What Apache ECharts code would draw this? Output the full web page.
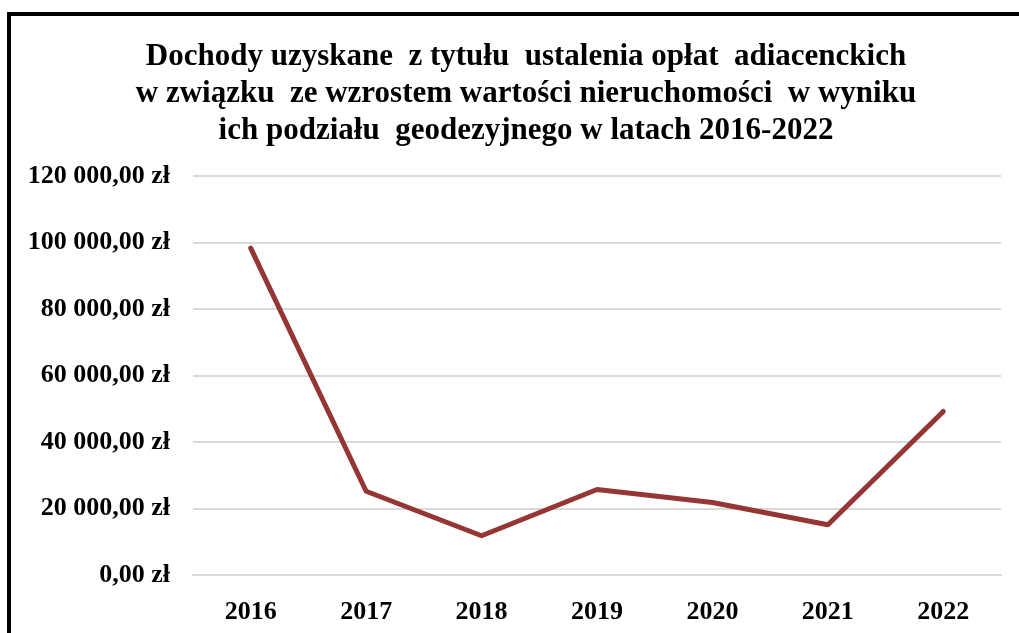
<!DOCTYPE html>
<html>
<head>
<meta charset="utf-8">
<title>Dochody z opłat adiacenckich 2016-2022</title>
<script src="https://cdn.jsdelivr.net/npm/echarts@6/dist/echarts.min.js"></script>
<style>
  html, body { margin: 0; padding: 0; background: #ffffff; }
  #chart { width: 1019px; height: 633px; }
</style>
</head>
<body>
<div id="chart"></div>
<script>
// Lata i dochody (zł)
const years = ['2016', '2017', '2018', '2019', '2020', '2021', '2022'];
const income = [98300, 25200, 11800, 25700, 21800, 15100, 49200];
const yTicks = { min: 0, max: 120000, step: 20000 };

const titleLines = [
  'Dochody uzyskane  z tytułu  ustalenia opłat  adiacenckich',
  'w związku  ze wzrostem wartości nieruchomości  w wyniku',
  'ich podziału  geodezyjnego w latach 2016-2022'
];

const serif = '"Liberation Serif", "Times New Roman", serif';

function formatZl(v) {
  const parts = Math.round(v).toString().replace(/\B(?=(\d{3})+(?!\d))/g, ' ');
  return parts + ',00 zł';
}

const chart = echarts.init(document.getElementById('chart'), null, { renderer: 'canvas' });

chart.setOption({
  backgroundColor: '#ffffff',
  animation: false,
  title: {
    text: titleLines.join('\n'),
    left: 521,
    top: 33,
    textAlign: 'center',
    textStyle: {
      fontFamily: serif,
      fontWeight: 'bold',
      fontSize: 31,
      lineHeight: 37,
      color: '#000000'
    }
  },
  graphic: [{
    type: 'rect',
    shape: { x: 9, y: 14, width: 1100, height: 700 },
    style: { fill: 'none', stroke: '#000000', lineWidth: 4 },
    silent: true,
    z: 100
  }],
  grid: { left: 193, right: 18, top: 176, bottom: 58 },
  xAxis: {
    type: 'category',
    data: years,
    boundaryGap: true,
    axisLine: { show: true, lineStyle: { color: '#d9d9d9', width: 2 } },
    axisTick: { show: false },
    axisLabel: {
      fontFamily: serif,
      fontWeight: 'bold',
      fontSize: 26,
      color: '#000000',
      margin: 24
    }
  },
  yAxis: {
    type: 'value',
    min: yTicks.min,
    max: yTicks.max,
    interval: yTicks.step,
    axisLine: { show: false },
    axisTick: { show: false },
    splitLine: { lineStyle: { color: '#d9d9d9', width: 2 } },
    axisLabel: {
      fontFamily: serif,
      fontWeight: 'bold',
      fontSize: 26,
      color: '#000000',
      margin: 23,
      formatter: formatZl
    }
  },
  series: [{
    type: 'line',
    data: income,
    symbol: 'none',
    lineStyle: { color: '#963634', width: 5, cap: 'round', join: 'round' }
  }]
});
</script>
</body>
</html>
